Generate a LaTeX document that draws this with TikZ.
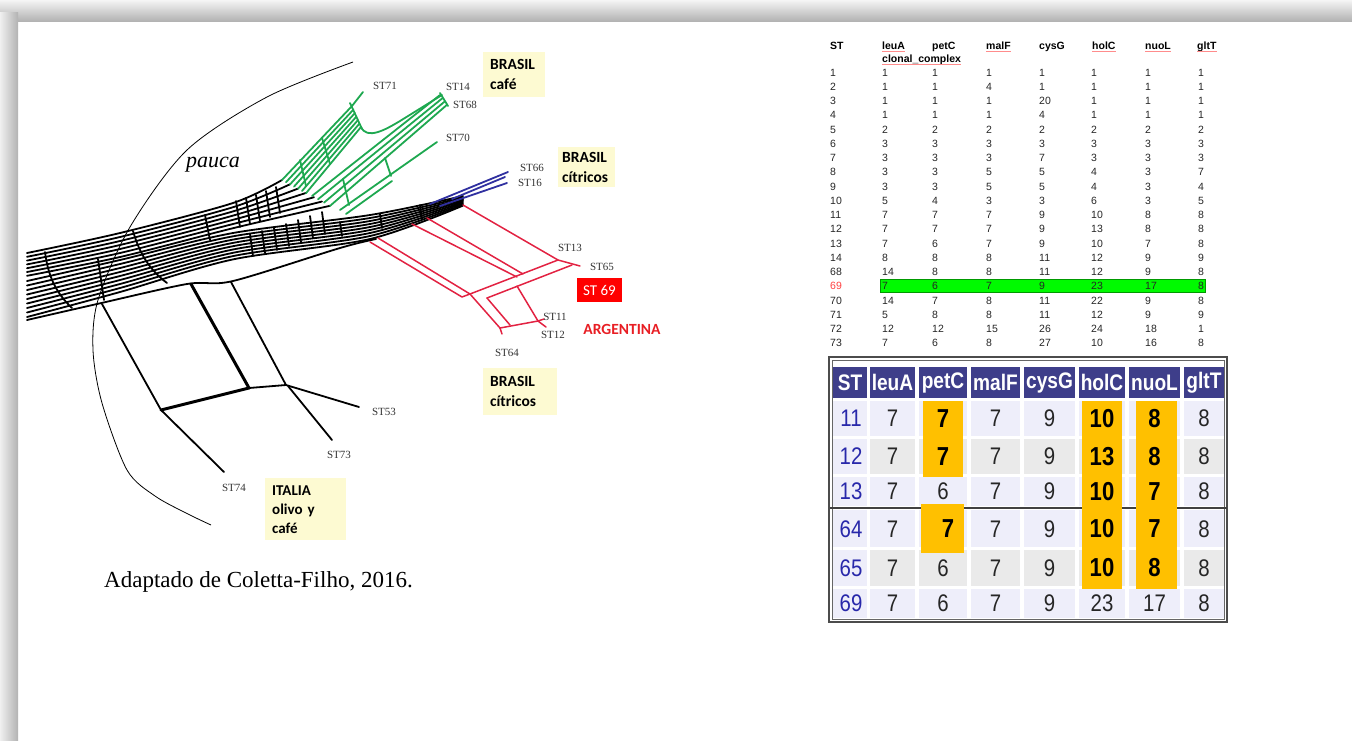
\documentclass[tikz,border=0pt]{standalone}
\usepackage{fontspec}
\setmainfont{Liberation Serif}
\newfontfamily\calib{Carlito}
\newfontfamily\arial{Liberation Sans}
\newfontfamily\narrow[FakeStretch=0.85]{Liberation Sans}
\usetikzlibrary{positioning}

\definecolor{netgreen}{RGB}{30,168,80}
\definecolor{netred}{RGB}{226,34,66}
\definecolor{netblue}{RGB}{48,48,160}
\definecolor{tagyellow}{RGB}{253,250,210}
\definecolor{hdnavy}{RGB}{62,62,138}
\definecolor{cellav}{RGB}{238,238,250}
\definecolor{cellgray}{RGB}{234,234,234}
\definecolor{hlorange}{RGB}{255,192,0}
\definecolor{stblue}{RGB}{40,40,170}
\definecolor{argred}{RGB}{232,30,36}
\definecolor{rowgreen}{RGB}{0,250,0}

\begin{document}
\begin{tikzpicture}[x=1pt, y=-1pt,
    net/.style={line width=1.8pt, line join=round, line cap=round},
    st/.style={font=\fontsize{11}{13}\selectfont, text=black!80, inner sep=0pt},
    tag/.style={fill=tagyellow, anchor=north west, align=left, inner ysep=2pt,
        font=\calib\bfseries\fontsize{15.5}{20}\selectfont}]
\useasboundingbox (0,0) rectangle (1352,740);
% slide frame
\shade[top color=black!4, bottom color=black!30] (0,0) rectangle (1352,21);
\shade[left color=black!6, right color=black!30] (0,12) rectangle (18,740);

% splits network (x: px of the slide, y downwards)
\draw[line width=0.8pt] plot[smooth] coordinates {(353,62) (267,97) (187,150) (130,227) (98,300) (93,350) (102,403) (127,470) (155,496) (188,514) (211,525)};
\node[font=\itshape\fontsize{22}{26}\selectfont, inner sep=0pt] (pauca) at (213,165) {pauca};
\begin{scope}[net]
\foreach \k in {0,...,6}
  \draw plot[smooth] coordinates {(27,{253+3.8*\k}) (120,{233+4*\k}) (233,{203+4.2*\k}) ({282+8*\k},{180+4.3*\k})};
\foreach \k in {0,...,8}
  \draw plot[smooth] coordinates {(27,{281+4.5*\k}) (120,{260+4*\k}) (233,{233+3.3*\k}) (370,{215+3*\k}) (463,{196+1.2*\k})};
\draw plot[smooth] coordinates {(27,320) (97,304) (187,284) (233,281) (340,248) (376,239)};
\draw (45,252) .. controls (48,275) and (55,292) .. (72,308);
\draw (133,231) .. controls (140,255) and (150,270) .. (167,283);
\draw (98,259) -- (104,300);
\draw (205,215) -- (210,240);
\foreach \x/\y in {236/201, 246/198, 256/195, 266/191, 276/187}
  \draw (\x,\y) -- ({\x+4},{\y+26});
\foreach \x/\y in {250/234, 262/231, 274/228, 286/224, 298/220, 310/216, 322/212}
  \draw (\x,\y) -- ({\x+3},{\y+22});
\foreach \x/\y in {340/222, 380/214, 420/205}
  \draw (\x,\y) -- ({\x+2},{\y+14});
% lower branches
\draw (102,304) -- (161,410) -- (224,472);
\draw[line width=3pt] (191,284) -- (249,388);
\draw (231,282) -- (286,385);
\draw[line width=3pt] (161,410) -- (249,388);
\draw (249,388) -- (286,385) -- (359,407);
\draw (288,386) -- (332,440);
\end{scope}
% green group
\begin{scope}[net, netgreen]
\foreach \k in {0,...,6}
  \draw ({282+4*\k},{180+2.2*\k}) -- ({352+1.5*\k},{106+3.5*\k});
\draw (352,106) -- (363,92);
\draw (350,103) -- (362,129);
\draw (361,127) .. controls (367,140) and (385,130) .. (400,121) -- (442,95);
\foreach \k in {0,...,3}
  \draw ({312+6*\k},{196+3.3*\k}) -- ({440+2.3*\k},{95+3.3*\k});
\draw (440,93) -- (448,106);
\draw (340,210) -- (437,142);
\draw (346,214) -- (392,181);
\draw (343,179) -- (349,205);
\draw (385,158) -- (391,176);
\draw (322,138) -- (330,164);
\draw (300,160) -- (306,186);
\end{scope}
% blue group
\begin{scope}[net, netblue]
\draw (430,204) -- (508,172);
\draw (440,206) -- (507,183);
\draw (452,199) -- (505,177);
\end{scope}
% red group
\begin{scope}[net, netred, line width=1.5pt]
\draw (463,205) -- (558,260) -- (580,266);
\draw (558,260) -- (470,294);
\draw (572,265) -- (487,298);
\draw (427,218) -- (523,274);
\draw (412,224) -- (517,277);
\draw (378,238) -- (470,294);
\draw (370,242) -- (462,297) -- (470,294);
\draw (470,294) -- (500,328);
\draw (487,298) -- (510,325);
\draw (517,286) -- (538,321);
\draw (500,328) -- (538,321) -- (544,319);
\draw (538,321) -- (546,327);
\draw (500,328) -- (502,334);
\end{scope}

% strain labels
\node[st] (st71) at (385,86) {ST71};
\node[st] (st14) at (458,87) {ST14};
\node[st, below=10pt of st14, xshift=7pt] (st68) {ST68};
\node[st] (st70) at (458,138) {ST70};
\node[st] (st66) at (532,168) {ST66};
\node[st, below=7pt of st66, xshift=-2pt] (st16) {ST16};
\node[st] (st13) at (570,248) {ST13};
\node[st] (st65) at (602,267) {ST65};
\node[st] (st11) at (555,317) {ST11};
\node[st, below=10pt of st11, xshift=-2pt] (st12) {ST12};
\node[st] (st64) at (507,353) {ST64};
\node[st] (st53) at (384,412) {ST53};
\node[st] (st73) at (339,455) {ST73};
\node[st] (st74) at (234,488) {ST74};

% origin tags
\node[tag, text width=48pt, inner xsep=7pt, minimum height=45pt] (brcafe) at (483,52) {BRASIL\\café};
\node[tag, text width=49pt, inner xsep=4pt, minimum height=40pt] (brcit) at (558,147) {BRASIL\\cítricos};
\node[tag, text width=60pt, inner xsep=7pt, minimum height=47pt] (brcitb) at (483,368) {BRASIL\\cítricos};
\node[tag, text width=67pt, inner xsep=7pt, minimum height=62pt,
      font=\calib\bfseries\fontsize{15}{19}\selectfont] (italia) at (265,478) {ITALIA\\olivo y\\café};
\node[fill=red, text=white, font=\calib\fontsize{15}{18}\selectfont, minimum width=45pt,
      minimum height=24pt, inner sep=0pt] (st69) at (599.5,290) {ST 69};
\node[text=argred, font=\calib\bfseries\fontsize{15.5}{18}\selectfont, inner sep=0pt] (arg) at (622,329) {ARGENTINA};
\node[anchor=west, font=\fontsize{23}{27}\selectfont, inner sep=0pt] (src) at (104,582) {Adaptado de Coletta-Filho, 2016.};

% MLST listing
\begin{scope}[cell/.style={anchor=base west, inner sep=0pt, font=\arial\fontsize{10.5}{12}\selectfont, text=black!85},
    head/.style={cell, font=\arial\bfseries\fontsize{10.5}{12}\selectfont, text=black}]
\foreach \lab/\x [count=\j] in {ST/830, leuA/882, petC/932, malF/986, cysG/1039, holC/1092, nuoL/1145, gltT/1197}
  \node[head] (h\j) at (\x,49) {\lab};
\node[head] (hcc) at (882,62) {clonal\_complex};
\foreach \n in {h2,h4,h6,h7,h8,hcc}
  \draw[red!45, line width=0.6pt] ([yshift=-2.5pt]\n.base west) -- ([yshift=-2.5pt]\n.base east);
\fill[rowgreen, draw=green!60!black, line width=0.4pt] (880,279) rectangle (1205,292);
\foreach \rst/\la/\pc/\mf/\cg/\hc/\nl/\gt [count=\i] in {1/1/1/1/1/1/1/1, 2/1/1/4/1/1/1/1,
    3/1/1/1/20/1/1/1, 4/1/1/1/4/1/1/1, 5/2/2/2/2/2/2/2, 6/3/3/3/3/3/3/3, 7/3/3/3/7/3/3/3,
    8/3/3/5/5/4/3/7, 9/3/3/5/5/4/3/4, 10/5/4/3/3/6/3/5, 11/7/7/7/9/10/8/8, 12/7/7/7/9/13/8/8,
    13/7/6/7/9/10/7/8, 14/8/8/8/11/12/9/9, 68/14/8/8/11/12/9/8, 69/7/6/7/9/23/17/8,
    70/14/7/8/11/22/9/8, 71/5/8/8/11/12/9/9, 72/12/12/15/26/24/18/1, 73/7/6/8/27/10/16/8} {
  \pgfmathsetmacro\yy{76+(\i-1)*14.26}
  \node[cell] (p\i-0) at (830,\yy) {\ifnum\rst=69 \textcolor{red!75}{\rst}\else\rst\fi};
  \foreach \v/\x [count=\j] in {\la/882, \pc/932, \mf/986, \cg/1039, \hc/1091, \nl/1145, \gt/1198}
    \node[cell] (p\i-\j) at (\x,\yy) {\v};
}
\end{scope}

% selected profiles
\begin{scope}[num/.style={font=\narrow\fontsize{24}{26}\selectfont, text=black!85, inner sep=0pt},
    hot/.style={num, font=\narrow\bfseries\fontsize{26}{28}\selectfont, text=black},
    hotr/.style={hot, xshift=5pt},
    hd/.style={fill=hdnavy, text=white, font=\narrow\bfseries\fontsize{22.5}{24}\selectfont,
        inner sep=0pt, minimum height=31pt}]
\draw[black!70, line width=1.2pt] (829,357) rectangle (1227,622);
\draw[black!60, line width=0.6pt] (832,360) rectangle (1224,619);
\foreach \lab/\l/\r [count=\j] in {ST/833/867, leuA/870/915, petC/919/967, malF/971/1020,
    cysG/1024/1075, holC/1079/1125, nuoL/1129/1180, gltT/1184/1224}
  \node[hd, minimum width={(\r-\l)*1pt}] (g\j) at ({(\l+\r)/2},382.5) {\lab};
\foreach \t/\b in {401/436, 439/474, 477/506, 510/547, 550/586, 589/618}
  \foreach \l/\r in {833/867, 870/915, 919/967, 971/1020, 1024/1075, 1079/1125, 1129/1180, 1184/1224}
    \fill[cellav] (\l,\t) rectangle (\r,\b);
\foreach \t/\b in {439/474, 550/586}
  \foreach \l/\r in {870/915, 919/967, 971/1020, 1024/1075, 1079/1125, 1129/1180, 1184/1224}
    \fill[cellgray] (\l,\t) rectangle (\r,\b);
\draw[black!75, line width=1.5pt] (830,508) -- (1227,508);
\fill[hlorange] (923,401) rectangle (963,477);
\fill[hlorange] (921,504) rectangle (964,553);
\fill[hlorange] (1082,401) rectangle (1122,589);
\fill[hlorange] (1136,401) rectangle (1177,589);
\foreach \s/\y/\vals in {11/418.5/{7/num,7/hot,7/num,9/num,10/hot,8/hot,8/num},
    12/456.5/{7/num,7/hot,7/num,9/num,13/hot,8/hot,8/num},
    13/491.5/{7/num,6/num,7/num,9/num,10/hot,7/hot,8/num},
    64/529/{7/num,7/hotr,7/num,9/num,10/hot,7/hot,8/num},
    65/568/{7/num,6/num,7/num,9/num,10/hot,8/hot,8/num},
    69/603.5/{7/num,6/num,7/num,9/num,23/num,17/num,8/num}} {
  \node[num, text=stblue] (b\s-0) at (851,\y) {\s};
  \foreach \v/\sty [count=\j] in \vals {
    \pgfmathsetmacro\xx{{850,892.5,943,995.5,1049.5,1102,1154.5,1204}[\j]}
    \node[\sty] (b\s-\j) at (\xx,\y) {\v};
  }
}
\end{scope}
\end{tikzpicture}
\end{document}
